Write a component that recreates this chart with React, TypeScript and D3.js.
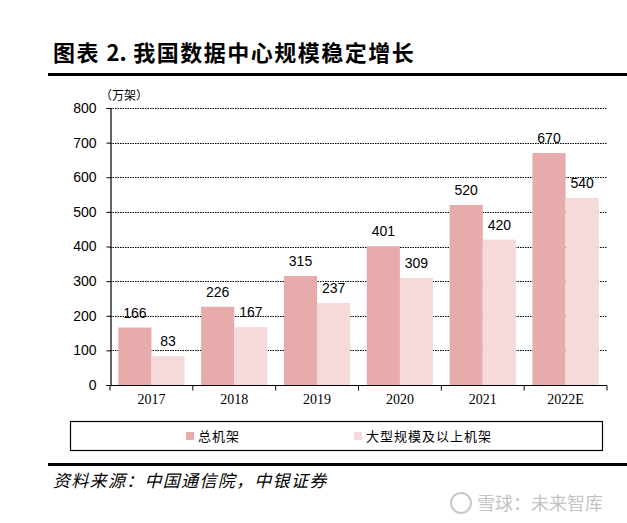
import { useEffect, useRef } from 'react';
import * as d3 from 'd3';

const years = ['2017', '2018', '2019', '2020', '2021', '2022E'];
const totalRacks = [166, 226, 315, 401, 520, 670];
const largeRacks = [83, 167, 237, 309, 420, 540];
const seriesNames = ['总机架', '大型规模及以上机架'];
const yTicks = [0, 100, 200, 300, 400, 500, 600, 700, 800];

const colors = ['#e8abab', '#f6d9d9'];

export default function App() {
  const ref = useRef<SVGSVGElement>(null);

  useEffect(() => {
    if (!ref.current) return;
    const svg = d3.select(ref.current);
    svg.selectAll('*').remove();

    const left = 110;
    const right = 607;
    const top = 108;
    const bottom = 385;

    // title
    const title = svg
      .append('text')
      .attr('x', 53)
      .attr('y', 61)
      .attr('font-family', '"Noto Sans CJK SC", sans-serif')
      .attr('font-weight', 'bold')
      .attr('font-size', 22);
    title.append('tspan').attr('letter-spacing', 1.5).text('图表 ');
    title.append('tspan').text('2.');
    title.append('tspan').attr('letter-spacing', 1.5).text(' 我国数据中心规模稳定增长');
    svg
      .append('line')
      .attr('x1', 48)
      .attr('x2', 627)
      .attr('y1', 74.5)
      .attr('y2', 74.5)
      .attr('stroke', '#000')
      .attr('stroke-width', 3);

    const x = d3.scaleBand().domain(years).range([left, right]).paddingInner(0).paddingOuter(0);
    const inner = d3
      .scaleBand()
      .domain(seriesNames)
      .range([0, x.bandwidth()])
      .paddingOuter(0.25)
      .paddingInner(0);
    const y = d3.scaleLinear().domain([0, 800]).range([bottom, top]);

    // grid
    svg
      .append('g')
      .selectAll('line')
      .data(yTicks.filter((t) => t > 0))
      .enter()
      .append('line')
      .attr('x1', left)
      .attr('x2', right)
      .attr('y1', (d) => Math.round(y(d)) + 0.5)
      .attr('y2', (d) => Math.round(y(d)) + 0.5)
      .attr('stroke', '#000')
      .attr('stroke-width', 1)
      .attr('stroke-dasharray', '1.5,1');

    const series = [totalRacks, largeRacks];
    series.forEach((vals, si) => {
      const g = svg.append('g');
      g.selectAll('rect')
        .data(vals)
        .enter()
        .append('rect')
        .attr('x', (_, i) => x(years[i])! + inner(seriesNames[si])!)
        .attr('y', (d) => y(d))
        .attr('width', inner.bandwidth())
        .attr('height', (d) => bottom - y(d))
        .attr('fill', colors[si]);
      g.selectAll('text')
        .data(vals)
        .enter()
        .append('text')
        .attr('x', (_, i) => x(years[i])! + inner(seriesNames[si])! + inner.bandwidth() / 2)
        .attr('y', (d) => y(d) - 10)
        .attr('text-anchor', 'middle')
        .attr('font-family', '"Liberation Sans", Arial, sans-serif')
        .attr('font-size', 14)
        .text((d) => d);
    });

    // y axis
    const yAxis = d3
      .axisLeft(y)
      .tickValues(yTicks)
      .tickSize(4)
      .tickPadding(10);
    const ya = svg.append('g').attr('transform', `translate(${left + 0.5},0)`).call(yAxis);
    ya.select('.domain').attr('stroke', '#000').attr('stroke-width', 1.2);
    ya.selectAll('text')
      .attr('font-family', '"Liberation Sans", Arial, sans-serif')
      .attr('font-size', 14)
      .attr('fill', '#000');

    // x axis
    const xa = svg.append('g').attr('transform', `translate(0,${bottom + 0.5})`);
    xa.append('line')
      .attr('x1', left)
      .attr('x2', right)
      .attr('stroke', '#000')
      .attr('stroke-width', 1.2);
    xa.selectAll('line.tick')
      .data(d3.range(years.length + 1))
      .enter()
      .append('line')
      .attr('class', 'tick')
      .attr('x1', (i) => left + i * x.bandwidth())
      .attr('x2', (i) => left + i * x.bandwidth())
      .attr('y1', 0)
      .attr('y2', 5)
      .attr('stroke', '#000');
    xa.selectAll('text')
      .data(years)
      .enter()
      .append('text')
      .attr('x', (d) => x(d)! + x.bandwidth() / 2)
      .attr('y', 18)
      .attr('text-anchor', 'middle')
      .attr('font-family', '"Liberation Serif", "Times New Roman", serif')
      .attr('font-size', 14)
      .text((d) => d);

    // unit
    svg
      .append('text')
      .attr('x', 100)
      .attr('y', 100)
      .attr('font-family', '"Noto Sans CJK SC", sans-serif')
      .attr('font-size', 12)
      .text('（万架）');

    // legend
    svg
      .append('rect')
      .attr('x', 70.5)
      .attr('y', 421.5)
      .attr('width', 532)
      .attr('height', 29)
      .attr('fill', 'none')
      .attr('stroke', '#000')
      .attr('stroke-width', 1.2);
    const legendX = [186, 354];
    seriesNames.forEach((name, i) => {
      svg
        .append('rect')
        .attr('x', legendX[i])
        .attr('y', 432)
        .attr('width', 8)
        .attr('height', 8)
        .attr('fill', colors[i]);
      svg
        .append('text')
        .attr('x', legendX[i] + 12)
        .attr('y', 441)
        .attr('font-family', '"Noto Sans CJK SC", sans-serif')
        .attr('font-size', 13)
        .attr('letter-spacing', 1)
        .text(name);
    });

    // source
    svg
      .append('line')
      .attr('x1', 48)
      .attr('x2', 627)
      .attr('y1', 464.5)
      .attr('y2', 464.5)
      .attr('stroke', '#000')
      .attr('stroke-width', 3);
    svg
      .append('text')
      .attr('x', 53)
      .attr('y', 487)
      .attr('font-family', '"Noto Sans CJK SC", sans-serif')
      .attr('font-style', 'italic')
      .attr('font-size', 17)
      .attr('letter-spacing', 1.3)
      .text('资料来源：中国通信院，中银证券');

    // watermark
    svg
      .append('circle')
      .attr('cx', 461)
      .attr('cy', 503)
      .attr('r', 10)
      .attr('fill', 'none')
      .attr('stroke', '#c8c8c8')
      .attr('stroke-width', 2);
    svg
      .append('text')
      .attr('x', 477)
      .attr('y', 510)
      .attr('font-family', '"Noto Sans CJK SC", sans-serif')
      .attr('font-size', 18)
      .attr('fill', '#c4c4c4')
      .text('雪球：未来智库');
  }, []);

  return (
    <svg
      ref={ref}
      width={627}
      height={523}
      style={{ position: 'absolute', left: 0, top: 0, background: '#fff' }}
    />
  );
}
